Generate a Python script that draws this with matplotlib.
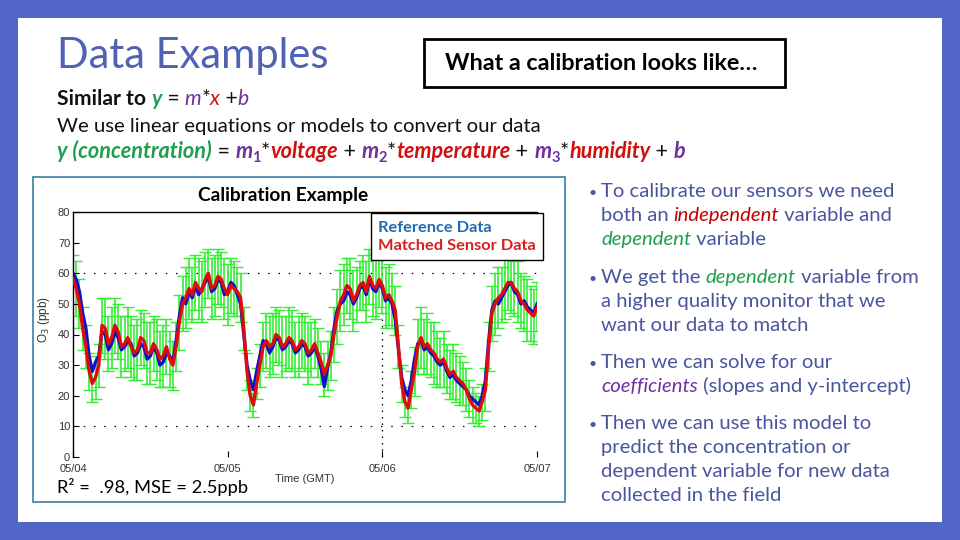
import numpy as np
import matplotlib
matplotlib.use('Agg')
import matplotlib.pyplot as plt
from matplotlib.font_manager import FontProperties
from matplotlib.patches import Rectangle

W, H = 960, 540

# half-hourly values, 05/04 00:00 -> 05/07 00:00 (one row = 6 hours)
hours = [i * 0.5 for i in range(145)]
reference = [60, 58, 54, 47, 42, 33, 28, 31, 33, 41, 40, 35,
             37, 41, 39, 35, 36, 38, 37, 33, 34, 37, 36, 32,
             33, 36, 34, 30, 31, 34, 33, 31, 38, 46, 52, 50,
             54, 52, 56, 53, 55, 57, 59, 54, 55, 58, 57, 53,
             54, 57, 56, 53, 50, 40, 30, 25, 22, 28, 33, 38,
             37, 34, 36, 39, 38, 35, 36, 38, 37, 34, 35, 37,
             36, 33, 34, 36, 33, 29, 23, 29, 34, 42, 48, 50,
             51, 54, 53, 50, 52, 55, 56, 53, 58, 55, 54, 57,
             55, 51, 52, 50, 45, 35, 26, 22, 20, 25, 32, 37,
             38, 35, 36, 34, 33, 31, 30, 31, 28, 26, 27, 25,
             24, 23, 22, 20, 19, 18, 17, 20, 25, 38, 48, 51,
             50, 52, 54, 56, 57, 54, 53, 50, 51, 49, 48, 47,
             50]
sensor = [58, 55, 50, 42, 36, 28, 24, 26, 30, 43, 42, 37,
          39, 43, 41, 36, 37, 39, 36, 34, 35, 39, 38, 34,
          34, 37, 35, 32, 33, 36, 32, 30, 36, 44, 50, 52,
          55, 53, 57, 55, 54, 58, 60, 55, 56, 59, 58, 55,
          53, 56, 55, 54, 52, 42, 28, 20, 17, 24, 30, 36,
          38, 36, 37, 40, 39, 36, 37, 39, 38, 35, 36, 38,
          37, 34, 35, 37, 34, 31, 27, 30, 33, 40, 46, 51,
          53, 56, 55, 51, 53, 56, 57, 54, 59, 56, 55, 58,
          56, 52, 53, 51, 48, 36, 24, 18, 16, 22, 28, 36,
          39, 36, 37, 35, 34, 32, 31, 32, 29, 27, 28, 26,
          25, 24, 22, 19, 17, 16, 15, 18, 22, 36, 47, 50,
          52, 53, 55, 57, 57, 55, 54, 51, 50, 48, 47, 46,
          49]
sensor_err = [8, 9, 8, 7, 7, 6, 6, 7, 7, 9, 10, 9,
              10, 9, 9, 10, 9, 10, 10, 9, 10, 9, 9, 10,
              10, 9, 10, 9, 10, 9, 9, 8, 8, 9, 9, 10,
              10, 9, 9, 10, 10, 9, 8, 10, 10, 9, 9, 10,
              10, 9, 9, 8, 8, 7, 6, 5, 4, 5, 7, 8,
              9, 10, 10, 9, 9, 10, 9, 10, 10, 9, 10, 9,
              9, 10, 9, 8, 8, 7, 7, 8, 8, 9, 9, 10,
              10, 9, 10, 10, 9, 8, 9, 10, 9, 10, 10, 9,
              9, 10, 10, 9, 8, 7, 6, 5, 5, 6, 8, 9,
              10, 9, 10, 9, 10, 9, 8, 9, 8, 8, 9, 8,
              8, 7, 7, 6, 6, 5, 5, 6, 7, 8, 9, 10,
              10, 9, 10, 9, 10, 9, 10, 9, 9, 10, 9, 9,
              8]
day_ticks = [0, 1, 2, 3]
day_labels = ['05/04', '05/05', '05/06', '05/07']
y_ticks = [0, 10, 20, 30, 40, 50, 60, 70, 80]
grid_y = [10, 60]
grid_x = [2]

BLUE_T = '#5062B4'
BODY = '#4A559F'
GREEN = '#1E9E4E'
PURPLE = '#7030A0'
RED = '#D01010'

fig = plt.figure(figsize=(9.6, 5.4), dpi=100)
fig.patch.set_facecolor('#5065C6')
fig.patches.append(Rectangle((18 / W, 18 / H), 924 / W, 504 / H, transform=fig.transFigure,
                             facecolor='white', edgecolor='none', zorder=-3))
# chart picture frame
fig.patches.append(Rectangle((33 / W, 38 / H), 532 / W, 325 / H, transform=fig.transFigure,
                             facecolor='white', edgecolor='#3C7EA6', lw=1.2, zorder=-2))
# title box
fig.patches.append(Rectangle((424 / W, 453 / H), 361 / W, 48 / H, transform=fig.transFigure,
                             facecolor='white', edgecolor='black', lw=2, zorder=-2))

renderer = fig.canvas.get_renderer()


def put(x, y, s, **kw):
    return fig.text(x / W, 1 - y / H, s, **kw)


def width(s, fp):
    w1 = renderer.get_text_width_height_descent(s + '|', fp, ismath=False)[0]
    w2 = renderer.get_text_width_height_descent('|', fp, ismath=False)[0]
    return w1 - w2


def rich(x, y, parts, size):
    for s, color, st in parts:
        fs = size * 0.68 if 's' in st else size
        dy = 4 if 's' in st else 0
        fp = FontProperties(family='Lato', size=fs,
                            style='italic' if 'i' in st else 'normal',
                            weight='bold' if 'b' in st else 'normal')
        put(x, y + dy, s, fontproperties=fp, color=color, va='baseline')
        x += width(s, fp)


# header texts
put(57, 68, 'Data Examples', family='Lato', fontsize=30, color=BLUE_T, va='baseline')
put(601, 63, 'What a calibration looks like…', family='Lato', fontsize=16.8,
    weight='bold', color='black', ha='center', va='center')

K = '#111111'
rich(57, 105, [('Similar to ', K, 'b'), ('y', GREEN, 'bi'), (' = ', K, ''), ('m', PURPLE, 'i'),
               ('*', K, ''), ('x', RED, 'i'), (' +', K, ''), ('b', PURPLE, 'i')], 15.2)
rich(57, 132, [('We use linear equations or models to convert our data', K, '')], 14.6)
rich(57, 158, [('y (concentration)', GREEN, 'bi'), (' = ', K, ''),
               ('m', PURPLE, 'bi'), ('1', PURPLE, 'sb'), ('*', K, ''), ('voltage', RED, 'bi'), (' + ', K, ''),
               ('m', PURPLE, 'bi'), ('2', PURPLE, 'sb'), ('*', K, ''), ('temperature', RED, 'bi'), (' + ', K, ''),
               ('m', PURPLE, 'bi'), ('3', PURPLE, 'sb'), ('*', K, ''), ('humidity', RED, 'bi'), (' + ', K, ''),
               ('b', PURPLE, 'bi')], 15.6)

# right bullets
bullets = [
    (197, [[('To calibrate our sensors we need', BODY, '')],
           [('both an ', BODY, ''), ('independent', '#C00000', 'i'), (' variable and', BODY, '')],
           [('dependent', GREEN, 'i'), (' variable', BODY, '')]]),
    (283, [[('We get the ', BODY, ''), ('dependent', GREEN, 'i'), (' variable from', BODY, '')],
           [('a higher quality monitor that we', BODY, '')],
           [('want our data to match', BODY, '')]]),
    (368, [[('Then we can solve for our', BODY, '')],
           [('coefficients', PURPLE, 'i'), (' (slopes and y-intercept)', BODY, '')]]),
    (429, [[('Then we can use this model to', BODY, '')],
           [('predict the concentration or', BODY, '')],
           [('dependent variable for new data', BODY, '')],
           [('collected in the field', BODY, '')]]),
]
for y0, lines in bullets:
    put(588, y0, '•', family='Lato', fontsize=10, color=BODY, va='baseline')
    for i, parts in enumerate(lines):
        rich(601, y0 + i * 24, parts, 14.6)

# chart
ax = fig.add_axes([73 / W, (540 - 457) / H, (537 - 73) / W, (457 - 212) / H])
ax.set_facecolor('none')
t = np.array(hours) / 24.0
ax.errorbar(t, sensor, yerr=sensor_err, fmt='none', ecolor='#33EE33', elinewidth=1.2,
            capsize=4, capthick=1.0, zorder=1)
ax.plot(t, reference, color='#1010CC', lw=2.4, label='Reference Data', zorder=2)
ax.plot(t, sensor, color='#E00C0C', lw=2.4, label='Matched Sensor Data', zorder=3)

for g in grid_y:
    ax.axhline(g, color='black', lw=0.9, ls=(0, (1.2, 7)), zorder=0)
for g in grid_x:
    ax.axvline(g, color='black', lw=0.9, ls=(0, (1.2, 4)), zorder=0)

ax.set_xlim(0, 3)
ax.set_ylim(0, 80)
ax.set_xticks(day_ticks, day_labels)
ax.set_yticks(y_ticks)
ax.spines['right'].set_visible(False)
ax.spines['bottom'].set_visible(False)
ax.spines['top'].set_linewidth(1.0)
ax.spines['left'].set_linewidth(1.0)
ax.tick_params(direction='in', length=4, labelsize=8, labelcolor='#333333', pad=2)
ax.tick_params(axis='x', pad=5)
for lab in ax.get_xticklabels() + ax.get_yticklabels():
    lab.set_family('Liberation Sans')

ax.set_ylabel('O$_3$ (ppb)', fontsize=8.5, family='Liberation Sans', color='#333333')
ax.yaxis.set_label_coords(-0.045, 0.56)
ax.set_xlabel('Time (GMT)', fontsize=8, family='Liberation Sans', color='#333333')
ax.xaxis.set_label_coords(0.5, -0.068)

leg = ax.legend(loc='upper right', bbox_to_anchor=(543 / W, 1 - 213 / H), bbox_transform=fig.transFigure,
                handlelength=0, handletextpad=0, fancybox=False, framealpha=1, edgecolor='black',
                borderpad=0.45, labelspacing=0.2, borderaxespad=0,
                prop=FontProperties(family='Lato', weight='bold', size=11.8))
leg.get_frame().set_linewidth(1.0)
for h in leg.legend_handles:
    h.set_visible(False)
leg.get_texts()[0].set_color('#1F6DB0')
leg.get_texts()[1].set_color('#D42020')

put(283, 196, 'Calibration Example', family='Lato', fontsize=13.8, weight='bold',
    color='black', ha='center', va='center')
put(57, 493, 'R² =  .98, MSE = 2.5ppb', family='Lato', fontsize=13.2, color='black', va='baseline')

fig.savefig('out.png', dpi=100)
